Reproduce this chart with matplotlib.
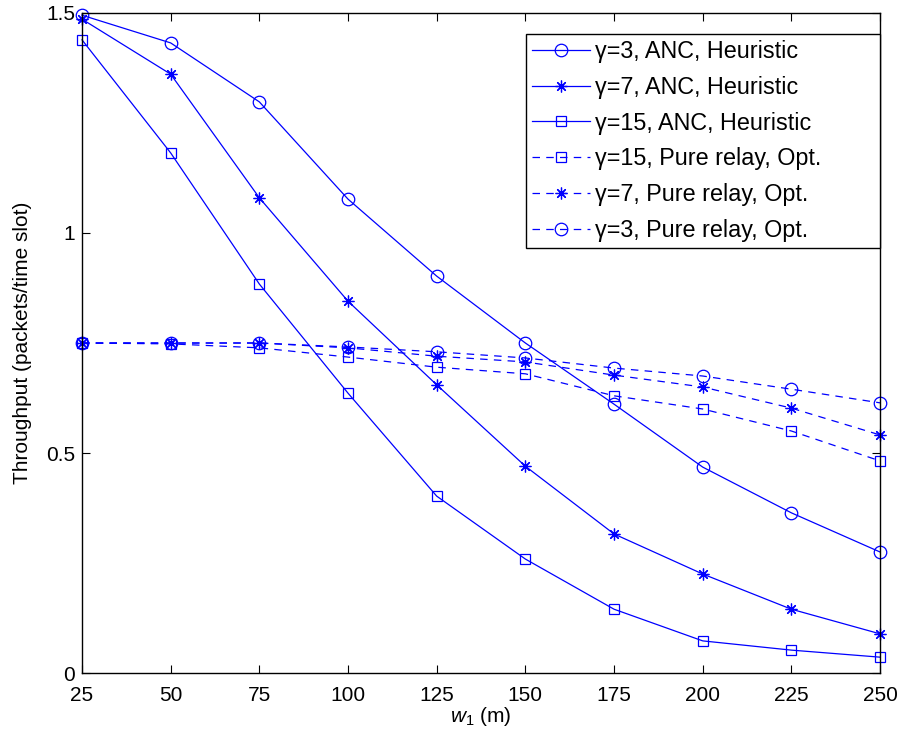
import matplotlib
matplotlib.use("Agg")
import matplotlib.pyplot as plt

plt.rcParams["font.family"] = ["Liberation Sans", "DejaVu Sans"]
plt.rcParams["mathtext.fontset"] = "custom"
plt.rcParams["mathtext.rm"] = "Liberation Sans"
plt.rcParams["mathtext.it"] = "Liberation Sans:italic"

w1 = [25, 50, 75, 100, 125, 150, 175, 200, 225, 250]

anc_g3 = [1.495, 1.432, 1.298, 1.077, 0.902, 0.750, 0.611, 0.468, 0.364, 0.275]
anc_g7 = [1.486, 1.361, 1.080, 0.845, 0.655, 0.470, 0.316, 0.225, 0.145, 0.089]
anc_g15 = [1.439, 1.182, 0.884, 0.636, 0.402, 0.259, 0.145, 0.073, 0.052, 0.036]

relay_g15 = [0.750, 0.748, 0.739, 0.718, 0.695, 0.680, 0.630, 0.600, 0.550, 0.482]
relay_g7 = [0.750, 0.750, 0.750, 0.739, 0.720, 0.707, 0.677, 0.650, 0.602, 0.541]
relay_g3 = [0.750, 0.750, 0.750, 0.741, 0.730, 0.716, 0.693, 0.675, 0.645, 0.614]

xticks = [25, 50, 75, 100, 125, 150, 175, 200, 225, 250]
yticks = [0, 0.5, 1, 1.5]
ytick_labels = ["0", "0.5", "1", "1.5"]

# matlab style '*' = eight spoke asterisk
STAR = (8, 2, 0)

series = [
    (anc_g3, "o", "-", "\u03b3=3, ANC, Heuristic"),
    (anc_g7, STAR, "-", "\u03b3=7, ANC, Heuristic"),
    (anc_g15, "s", "-", "\u03b3=15, ANC, Heuristic"),
    (relay_g15, "s", "--", "\u03b3=15, Pure relay, Opt."),
    (relay_g7, STAR, "--", "\u03b3=7, Pure relay, Opt."),
    (relay_g3, "o", "--", "\u03b3=3, Pure relay, Opt."),
]
marker_sizes = {"o": 9, "s": 7.5}

fig = plt.figure(figsize=(9.04, 7.34), dpi=100)
ax = fig.add_axes([0.0907, 0.0831, 0.8828, 0.8992])

for values, marker, ls, label in series:
    ms = marker_sizes.get(marker, 9) if isinstance(marker, str) else 8.5
    kw = {"dashes": (6, 5)} if ls == "--" else {}
    ax.plot(w1, values, color="#0000ff", linestyle=ls, linewidth=0.9,
            marker=marker, markersize=ms, markerfacecolor="none",
            markeredgecolor="#0000ff", markeredgewidth=0.9, label=label,
            clip_on=False, **kw)

ax.set_xlim(25, 250)
ax.set_ylim(0, 1.5)
ax.set_xticks(xticks)
ax.set_yticks(yticks)
ax.set_yticklabels(ytick_labels)
ax.tick_params(direction="in", top=True, right=True, labelsize=15, length=6, width=0.8)
ax.tick_params(axis="x", pad=9)
ax.tick_params(axis="y", pad=5)
for sp in ax.spines.values():
    sp.set_linewidth(1.0)

ax.set_xlabel(r"$w_{\mathit{1}}$ (m)", fontsize=15, labelpad=0)
ax.set_ylabel("Throughput (packets/time slot)", fontsize=15, labelpad=10)

# legend box is wider than its text, as in the matlab figure
leg_w, leg_top = 0.4436, 0.968
leg = ax.legend(loc="upper right", fontsize=16.8, handlelength=2.5, handletextpad=0.2,
                borderaxespad=0.0, bbox_to_anchor=(1.0 - leg_w, leg_top - 0.3, leg_w, 0.3),
                mode="expand", fancybox=False, framealpha=1, edgecolor="black",
                labelspacing=0.55, borderpad=0.25, numpoints=1)
leg.get_frame().set_linewidth(1.0)

fig.savefig("out.png", dpi=100)
